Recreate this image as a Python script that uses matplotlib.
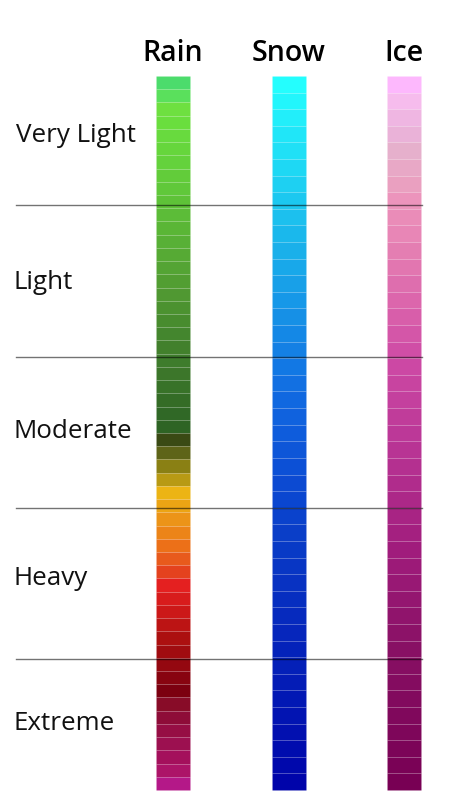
import matplotlib
matplotlib.use("Agg")
import matplotlib.pyplot as plt

# column headings and row labels
columns = ["Rain", "Snow", "Ice"]
levels = ["Very Light", "Light", "Moderate", "Heavy", "Extreme"]

# colour steps of each scale, top (lightest) to bottom (strongest)
rain_colors = [
    "#4cdc6c", "#5ae05c", "#6ee040", "#6ade3e", "#68da3e", "#66d63c", "#64d23c",
    "#62cc3a", "#60c83a", "#5ec238", "#5cbc38", "#5ab636", "#58b036", "#56aa34",
    "#54a434", "#529e32", "#509832", "#4c9230", "#488c2e", "#44862e", "#42802c",
    "#3e7c2c", "#3c762a", "#387228", "#346c26", "#306826", "#2e6424",
    "#3a4a14", "#5e6418", "#8a8014", "#b89a14", "#ecb414", "#eca414", "#ec9418",
    "#ec8418", "#ec7018", "#e85a1c", "#e4421e", "#e42020", "#d81c1c", "#cc1818",
    "#bc1414", "#ac1010", "#a00c10", "#940810", "#880410", "#7c0010", "#880c28",
    "#8e0c38", "#960e44", "#9c1050", "#a4105c", "#ac1468", "#b41888",
]
snow_colors = [
    "#24fefe", "#22f6fc", "#22eefa", "#20e6f8", "#20e0f6", "#1ed8f4", "#1ed0f2",
    "#1cc8f0", "#1cc0ee", "#1ab8ec", "#1ab0ea", "#18a8ea", "#18a0e8", "#1698e8",
    "#1690e6", "#1488e6", "#1480e4", "#1278e4", "#1270e2", "#1068e0", "#1062de",
    "#0e5cdc", "#0e56d8", "#0c50d6", "#0c4ad2", "#0a46d0", "#0a42cc", "#0a3ec8",
    "#083ac6", "#0836c4", "#0832c2", "#062ec0", "#062abe", "#0626bc", "#0422ba",
    "#0420b8", "#041cb6", "#0218b4", "#0214b2", "#0210b0", "#000cae", "#0008ac",
    "#0004aa",
]
ice_colors = [
    "#fdb8fd", "#f6bced", "#efb6e2", "#eab2d8", "#e6b0cc", "#e8a8c6", "#eaa0c0",
    "#ec94bc", "#ea8cb8", "#e886b6", "#e47eb2", "#e276b0", "#de6eae", "#dc66ac",
    "#d85eaa", "#d456a8", "#d04ea6", "#cc48a4", "#c844a0", "#c4409e", "#c03c9a",
    "#bc3898", "#b83494", "#b43090", "#b02c8c", "#ac2888", "#a82484", "#a42080",
    "#a01c7c", "#9c1a78", "#981874", "#941670", "#90146c", "#8c1268", "#881064",
    "#860e62", "#840c60", "#820a5e", "#80085c", "#7e065a", "#7c0458", "#7a0256",
    "#780054",
]
scales = [rain_colors, snow_colors, ice_colors]

fig = plt.figure(figsize=(4.5, 8), dpi=100)
ax = fig.add_axes([0, 0, 1, 1])
ax.set_xlim(-1.498, 2.398)
ax.set_ylim(1.014, -0.1064)
ax.axis("off")

# each scale fills the same height, split into its own number of steps
for i, cols in enumerate(scales):
    n = len(cols)
    h = 1.0 / n
    ax.bar([i] * n, [h] * n, bottom=[k * h for k in range(n)], width=0.294,
           color=cols, edgecolor=(1, 1, 1, 0.07), linewidth=0.6, align="center",
           zorder=2)
    ax.text(i, -0.031, columns[i], ha="center", va="center", fontsize=20.5,
            fontweight="semibold", family=["Open Sans", "DejaVu Sans"])

# row bands
row_top = -0.0308
row_h = 0.2119
label_y = [0.0828, 0.2895, 0.4975, 0.7035, 0.9075]
label_x = [-1.36, -1.378, -1.378, -1.378, -1.378]
for r, name in enumerate(levels):
    ax.text(label_x[r], label_y[r], name, ha="left", va="center", fontsize=18.7,
            family=["Open Sans", "DejaVu Sans"], color="#111111")
    if r > 0:
        y = row_top + r * row_h
        ax.plot([-1.36, 2.156], [y, y], color="black", alpha=0.55, lw=1,
                zorder=3)

fig.savefig("out.png", dpi=100, facecolor="white")
